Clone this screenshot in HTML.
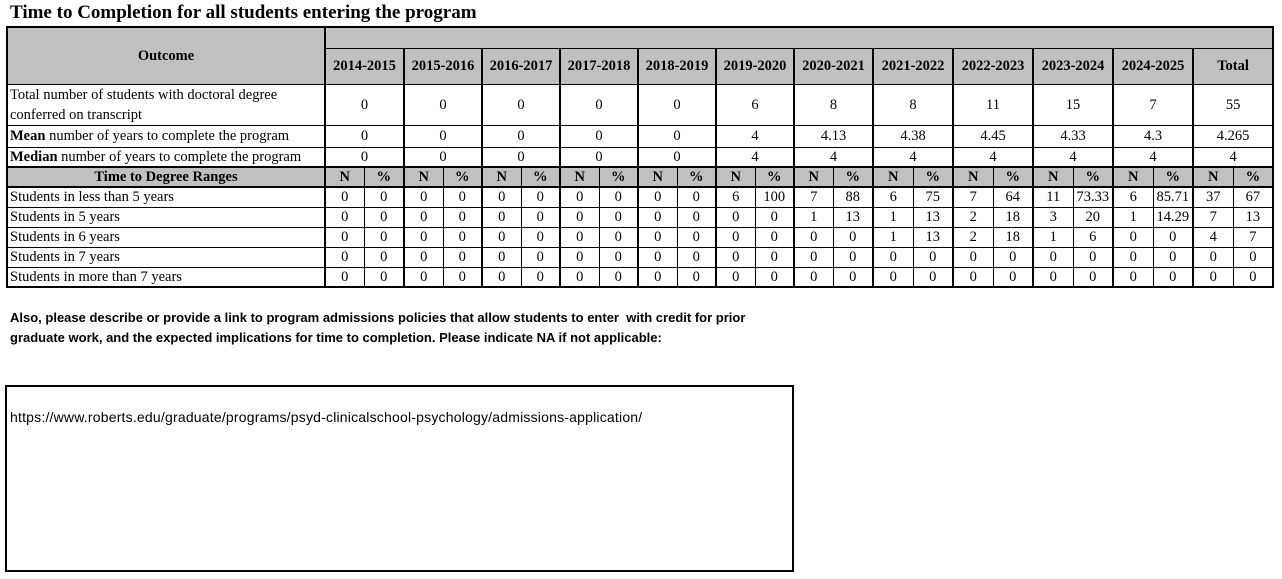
<!DOCTYPE html>
<html><head><meta charset="utf-8"><style>
html,body{margin:0;padding:0;background:#fff;width:1282px;height:579px;overflow:hidden;position:relative}
.title{position:absolute;left:10px;top:2px;font:bold 19px "Liberation Serif",serif;color:#000}
table{position:absolute;left:6px;top:26px;border-collapse:collapse;table-layout:fixed;width:1266px;font:14.5px "Liberation Serif",serif;border:2px solid #000}
td{border:1px solid #000;padding:0;text-align:center;vertical-align:middle;overflow:hidden;white-space:nowrap;line-height:16px}
.gr{background:#c0c0c0;font-weight:bold}
.l{text-align:left;padding-left:2px}
.g{border-left:2px solid #000}
.tb{border-top:2px solid #000}
.bb{border-bottom:2px solid #000}
.note{position:absolute;left:10px;top:308px;font:bold 13px "Liberation Sans",sans-serif;letter-spacing:0;line-height:20px;color:#000}
.box{position:absolute;left:5px;top:385px;width:785px;height:183px;border:2px solid #000}
.url{position:absolute;left:3px;top:22px;font:14px "Liberation Sans",sans-serif;letter-spacing:0.2px}
</style></head><body>
<div class="title">Time to Completion for all students entering the program</div>
<table>
<colgroup><col style="width:318px">
<col style="width:39px"><col style="width:40px">
<col style="width:39px"><col style="width:39px">
<col style="width:39px"><col style="width:39px">
<col style="width:39px"><col style="width:39px">
<col style="width:39px"><col style="width:39px">
<col style="width:39px"><col style="width:39px">
<col style="width:39px"><col style="width:40px">
<col style="width:40px"><col style="width:40px">
<col style="width:40px"><col style="width:40px">
<col style="width:40px"><col style="width:40px">
<col style="width:40px"><col style="width:40px">
<col style="width:40px"><col style="width:40px">
</colgroup>
<tr style="height:21px"><td class="gr" rowspan="2" style="border-right:2px solid #000">Outcome</td><td class="gr" colspan="24"></td></tr>
<tr style="height:36px" class="gr">
<td class="gr g" colspan="2">2014-2015</td><td class="gr g" colspan="2">2015-2016</td><td class="gr g" colspan="2">2016-2017</td><td class="gr g" colspan="2">2017-2018</td><td class="gr g" colspan="2">2018-2019</td><td class="gr g" colspan="2">2019-2020</td><td class="gr g" colspan="2">2020-2021</td><td class="gr g" colspan="2">2021-2022</td><td class="gr g" colspan="2">2022-2023</td><td class="gr g" colspan="2">2023-2024</td><td class="gr g" colspan="2">2024-2025</td><td class="gr g" colspan="2">Total</td></tr>
<tr style="height:40px"><td class="l" style="white-space:normal;line-height:20px">Total number of students with doctoral degree<br>conferred on transcript</td>
<td class="g" colspan="2">0</td><td class="g" colspan="2">0</td><td class="g" colspan="2">0</td><td class="g" colspan="2">0</td><td class="g" colspan="2">0</td><td class="g" colspan="2">6</td><td class="g" colspan="2">8</td><td class="g" colspan="2">8</td><td class="g" colspan="2">11</td><td class="g" colspan="2">15</td><td class="g" colspan="2">7</td><td class="g" colspan="2">55</td></tr>
<tr style="height:22px"><td class="l"><b>Mean</b> number of years to complete the program</td>
<td class="g" colspan="2">0</td><td class="g" colspan="2">0</td><td class="g" colspan="2">0</td><td class="g" colspan="2">0</td><td class="g" colspan="2">0</td><td class="g" colspan="2">4</td><td class="g" colspan="2">4.13</td><td class="g" colspan="2">4.38</td><td class="g" colspan="2">4.45</td><td class="g" colspan="2">4.33</td><td class="g" colspan="2">4.3</td><td class="g" colspan="2">4.265</td></tr>
<tr style="height:20px"><td class="l"><b>Median</b> number of years to complete the program</td>
<td class="g" colspan="2">0</td><td class="g" colspan="2">0</td><td class="g" colspan="2">0</td><td class="g" colspan="2">0</td><td class="g" colspan="2">0</td><td class="g" colspan="2">4</td><td class="g" colspan="2">4</td><td class="g" colspan="2">4</td><td class="g" colspan="2">4</td><td class="g" colspan="2">4</td><td class="g" colspan="2">4</td><td class="g" colspan="2">4</td></tr>
<tr style="height:20px"><td class="gr tb bb">Time to Degree Ranges</td>
<td class="gr g tb bb">N</td><td class="gr tb bb">%</td><td class="gr g tb bb">N</td><td class="gr tb bb">%</td><td class="gr g tb bb">N</td><td class="gr tb bb">%</td><td class="gr g tb bb">N</td><td class="gr tb bb">%</td><td class="gr g tb bb">N</td><td class="gr tb bb">%</td><td class="gr g tb bb">N</td><td class="gr tb bb">%</td><td class="gr g tb bb">N</td><td class="gr tb bb">%</td><td class="gr g tb bb">N</td><td class="gr tb bb">%</td><td class="gr g tb bb">N</td><td class="gr tb bb">%</td><td class="gr g tb bb">N</td><td class="gr tb bb">%</td><td class="gr g tb bb">N</td><td class="gr tb bb">%</td><td class="gr g tb bb">N</td><td class="gr tb bb">%</td></tr>
<tr style="height:20px"><td class="l">Students in less than 5 years</td>
<td class="g">0</td><td>0</td><td class="g">0</td><td>0</td><td class="g">0</td><td>0</td><td class="g">0</td><td>0</td><td class="g">0</td><td>0</td><td class="g">6</td><td>100</td><td class="g">7</td><td>88</td><td class="g">6</td><td>75</td><td class="g">7</td><td>64</td><td class="g">11</td><td>73.33</td><td class="g">6</td><td>85.71</td><td class="g">37</td><td>67</td></tr>
<tr style="height:20px"><td class="l">Students in 5 years</td>
<td class="g">0</td><td>0</td><td class="g">0</td><td>0</td><td class="g">0</td><td>0</td><td class="g">0</td><td>0</td><td class="g">0</td><td>0</td><td class="g">0</td><td>0</td><td class="g">1</td><td>13</td><td class="g">1</td><td>13</td><td class="g">2</td><td>18</td><td class="g">3</td><td>20</td><td class="g">1</td><td>14.29</td><td class="g">7</td><td>13</td></tr>
<tr style="height:20px"><td class="l">Students in 6 years</td>
<td class="g">0</td><td>0</td><td class="g">0</td><td>0</td><td class="g">0</td><td>0</td><td class="g">0</td><td>0</td><td class="g">0</td><td>0</td><td class="g">0</td><td>0</td><td class="g">0</td><td>0</td><td class="g">1</td><td>13</td><td class="g">2</td><td>18</td><td class="g">1</td><td>6</td><td class="g">0</td><td>0</td><td class="g">4</td><td>7</td></tr>
<tr style="height:20px"><td class="l">Students in 7 years</td>
<td class="g">0</td><td>0</td><td class="g">0</td><td>0</td><td class="g">0</td><td>0</td><td class="g">0</td><td>0</td><td class="g">0</td><td>0</td><td class="g">0</td><td>0</td><td class="g">0</td><td>0</td><td class="g">0</td><td>0</td><td class="g">0</td><td>0</td><td class="g">0</td><td>0</td><td class="g">0</td><td>0</td><td class="g">0</td><td>0</td></tr>
<tr style="height:20px"><td class="l">Students in more than 7 years</td>
<td class="g">0</td><td>0</td><td class="g">0</td><td>0</td><td class="g">0</td><td>0</td><td class="g">0</td><td>0</td><td class="g">0</td><td>0</td><td class="g">0</td><td>0</td><td class="g">0</td><td>0</td><td class="g">0</td><td>0</td><td class="g">0</td><td>0</td><td class="g">0</td><td>0</td><td class="g">0</td><td>0</td><td class="g">0</td><td>0</td></tr>
</table>
<div class="note">Also, please describe or provide a link to program admissions policies that allow students to enter&nbsp; with credit for prior<br>graduate work, and the expected implications for time to completion. Please indicate NA if not applicable:</div>
<div class="box"><div class="url">https://www.roberts.edu/graduate/programs/psyd-clinicalschool-psychology/admissions-application/</div></div>
</body></html>
